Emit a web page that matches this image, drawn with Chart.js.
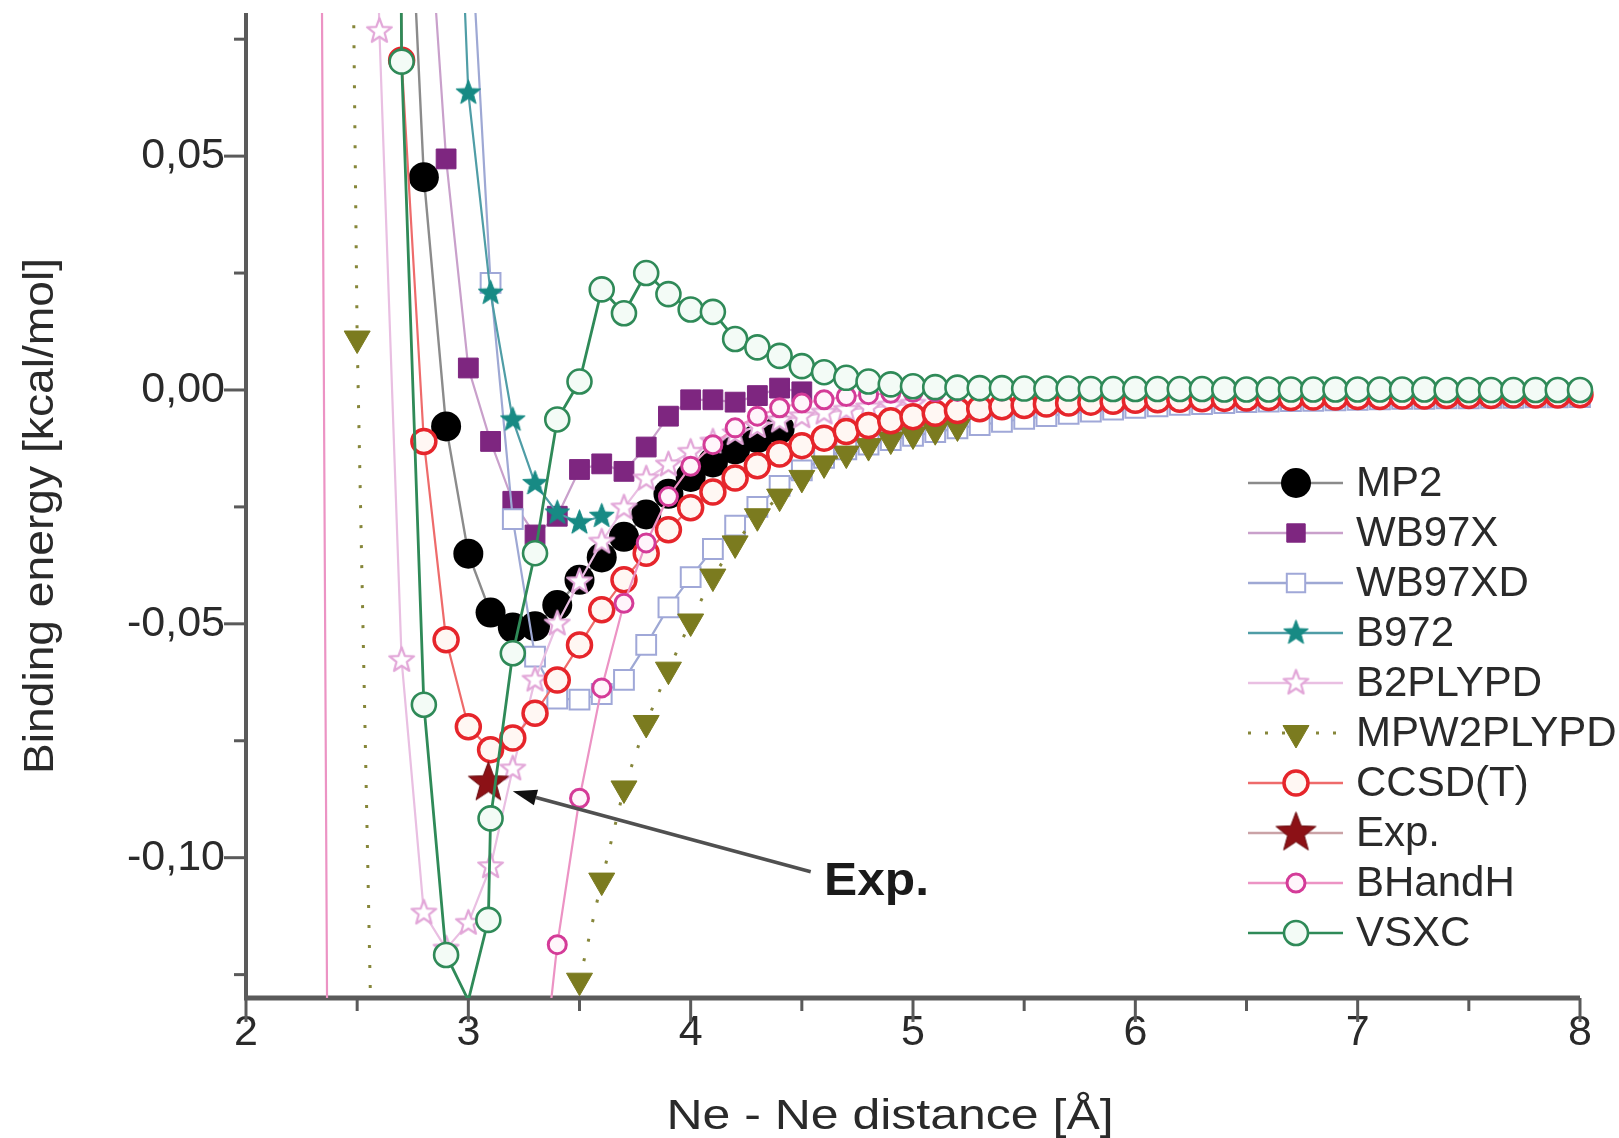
<!DOCTYPE html>
<html>
<head>
<meta charset="utf-8">
<title>Ne2 binding energy</title>
<script src="https://cdn.jsdelivr.net/npm/chart.js@4.4.1/dist/chart.umd.min.js"></script>
<style>
  html, body { margin: 0; padding: 0; background: #fff; }
  #wrap { width: 1619px; height: 1138px; }
</style>
</head>
<body>
<div id="wrap"><canvas id="myChart" width="1619" height="1138"></canvas></div>
<script>
// Ne - Ne distance grid (Å), 0.1 apart
const dist = [
    2.3, 2.4, 2.5, 2.6, 2.7, 2.8, 2.9, 3.0, 3.1, 3.2,
    3.3, 3.4, 3.5, 3.6, 3.7, 3.8, 3.9, 4.0, 4.1, 4.2,
    4.3, 4.4, 4.5, 4.6, 4.7, 4.8, 4.9, 5.0, 5.1, 5.2,
    5.3, 5.4, 5.5, 5.6, 5.7, 5.8, 5.9, 6.0, 6.1, 6.2,
    6.3, 6.4, 6.5, 6.6, 6.7, 6.8, 6.9, 7.0, 7.1, 7.2,
    7.3, 7.4, 7.5, 7.6, 7.7, 7.8, 7.9, 8.0
];

// binding energies (kcal/mol) on the grid above
const mp2E = [
    null, null, null, null, 0.146, 0.0455, -0.0078, -0.0350, -0.0476, -0.0508,
    -0.0505, -0.0460, -0.0406, -0.0358, -0.0314, -0.0266, -0.0222, -0.0186, -0.0155, -0.0127,
    -0.0103, -0.0083
];
const wb97xE = [
    null, null, null, null, null, 0.119, 0.0494, 0.0047, -0.0110, -0.0238,
    -0.0310, -0.0270, -0.0170, -0.0158, -0.0174, -0.0122, -0.0056, -0.0021, -0.0021, -0.0026,
    -0.0012, 0.0004, -0.0004
];
const wb97xdE = [
    null, null, null, null, null, null, 0.30, 0.108, 0.0229, -0.0276,
    -0.0570, -0.0660, -0.0662, -0.0650, -0.0620, -0.0545, -0.0465, -0.0400, -0.0340, -0.0290,
    -0.0250, -0.0205, -0.0172, -0.0145, -0.0127, -0.0117, -0.0107, -0.0098, -0.0090, -0.0082,
    -0.0075, -0.0068, -0.0062, -0.0056, -0.0051, -0.0046, -0.0042, -0.0038, -0.0035, -0.0032,
    -0.0030, -0.0028, -0.0026, -0.0025, -0.0024, -0.0023, -0.0022, -0.0021, -0.0020, -0.0019,
    -0.0019, -0.0018, -0.0018, -0.0017, -0.0017, -0.0016, -0.0016, -0.0015
];
const b972E = [
    null, null, null, null, null, null, 0.18, 0.0635, 0.0207, -0.0064,
    -0.0200, -0.0263, -0.0284, -0.0270
];
const b2plypdE = [
    null, null, 0.30, 0.0767, -0.0578, -0.1118, -0.1195, -0.1140, -0.1019, -0.0810,
    -0.0620, -0.0500, -0.0410, -0.0325, -0.0252, -0.0190, -0.0160, -0.0133, -0.0111, -0.0093,
    -0.0078, -0.0066, -0.0057, -0.0049, -0.0043, -0.0038, -0.0034, -0.0030
];
const mpw2plypdE = [
    null, 0.45, 0.0110, -0.225, null, null, null, null, null, null,
    null, null, -0.1263, -0.1049, -0.0852, -0.0712, -0.0598, -0.0495, -0.0399, -0.0328,
    -0.0270, -0.0228, -0.0188, -0.0157, -0.0136, -0.0120, -0.0106, -0.0095, -0.0086, -0.0078
];
const ccsdtE = [
    null, null, null, 0.60, 0.0705, -0.0110, -0.0534, -0.0720, -0.0769, -0.0744,
    -0.0691, -0.0620, -0.0545, -0.0470, -0.0406, -0.0349, -0.0299, -0.0252, -0.0218, -0.0188,
    -0.0162, -0.0137, -0.0119, -0.0103, -0.0089, -0.0076, -0.0066, -0.0057, -0.0050, -0.0044,
    -0.0040, -0.0036, -0.0033, -0.0030, -0.0028, -0.0026, -0.0024, -0.0022, -0.0021, -0.0020,
    -0.0019, -0.0018, -0.0017, -0.0016, -0.0016, -0.0015, -0.0015, -0.0014, -0.0014, -0.0013,
    -0.0013, -0.0012, -0.0012, -0.0012, -0.0011, -0.0011, -0.0011, -0.0010
];
const bhandhE = [
    0.47, -0.46, null, null, null, null, null, null, null, null,
    -0.162, -0.1186, -0.0873, -0.0637, -0.0456, -0.0327, -0.0228, -0.0163, -0.0117, -0.0081,
    -0.0056, -0.0038, -0.0028, -0.0021, -0.0014, -0.0010, -0.0007, -0.0005, -0.0004, -0.0003,
    -0.0002, -0.0002, -0.0001, -0.0001, -0.0001, -0.0001, 0, 0, 0, 0,
    0, 0, 0, 0, 0, 0, 0, 0, 0, 0,
    0, 0, 0, 0, 0, 0, 0, 0
];

// VSXC has its own distances (two points near 3.1)
const vsxcDist = [
    2.6, 2.7, 2.8, 2.9, 3.0, 3.09, 3.1, 3.2, 3.3, 3.4,
    3.5, 3.6, 3.7, 3.8, 3.9, 4.0, 4.1, 4.2, 4.3, 4.4,
    4.5, 4.6, 4.7, 4.8, 4.9, 5.0, 5.1, 5.2, 5.3, 5.4,
    5.5, 5.6, 5.7, 5.8, 5.9, 6.0, 6.1, 6.2, 6.3, 6.4,
    6.5, 6.6, 6.7, 6.8, 6.9, 7.0, 7.1, 7.2, 7.3, 7.4,
    7.5, 7.6, 7.7, 7.8, 7.9, 8.0
];
const vsxcE = [
    0.80, 0.0702, -0.0673, -0.1208, -0.1305, -0.1133, -0.0916, -0.0563, -0.0349, -0.0063,
    0.0018, 0.0215, 0.0164, 0.0250, 0.0205, 0.0172, 0.0167, 0.0109, 0.0091, 0.0073,
    0.0051, 0.0038, 0.0026, 0.0018, 0.0012, 0.0008, 0.0006, 0.0005, 0.0004, 0.0004,
    0.0003, 0.0003, 0.0003, 0.0002, 0.0002, 0.0002, 0.0002, 0.0002, 0.0002, 0.0001,
    0.0001, 0.0001, 0.0001, 0.0001, 0.0001, 0.0001, 0.0001, 0.0001, 0.0001, 0,
    0, 0, 0, 0, 0, 0
];

// experimental minimum
const expDist = [3.09];
const expE = [-0.084];

// axes
const xMin = 2, xMax = 8;
const yMin = -0.13, yMax = 0.0806;
const xTicks = [2, 3, 4, 5, 6, 7, 8];
const xMinor = [2.5, 3.5, 4.5, 5.5, 6.5, 7.5];
const yTicks = [-0.10, -0.05, 0, 0.05];
const yMinor = [-0.125, -0.075, -0.025, 0.025, 0.075];

// "Exp." arrow, in data units
const arrowTip = [3.2, -0.0858];
const arrowTail = [4.54, -0.1030];
const expLabelAt = [4.6, -0.1079];

const fontFamily = "'Liberation Sans', Arial, Helvetica, sans-serif";
const axisColor = '#5a5a5a';

function points(xs, ys) {
    return ys.map((y, i) => ({ x: xs[i], y: y }));
}

// no marker for points that sit under the bottom axis
function hideBelow(r) {
    return c => (c.raw && c.raw.y !== null && c.raw.y < yMin) ? 0 : r;
}

// five pointed star as a canvas marker
function starImage(R, fill, stroke, lw) {
    const c = document.createElement('canvas');
    const size = Math.ceil(2 * R + lw + 4);
    c.width = size;
    c.height = size;
    const g = c.getContext('2d');
    const cx = size / 2, cy = size / 2;
    g.beginPath();
    for (let i = 0; i < 10; i++) {
        const r = i % 2 === 0 ? R : R * 0.42;
        const a = -Math.PI / 2 + i * Math.PI / 5;
        g.lineTo(cx + r * Math.cos(a), cy + r * Math.sin(a));
    }
    g.closePath();
    g.fillStyle = fill;
    g.fill();
    if (lw > 0) {
        g.strokeStyle = stroke;
        g.lineWidth = lw;
        g.lineJoin = 'round';
        g.stroke();
    }
    return c;
}

const tealStar = starImage(13, '#178a84', '#178a84', 1);
const pinkStar = starImage(13, '#ffffff', '#e2a6d8', 2.2);
const expStar = starImage(21, '#8c1116', '#6a0c10', 1);

const datasets = [
    {
        label: 'MP2', data: points(dist, mp2E),
        borderColor: '#8b8b8b', borderWidth: 2.4,
        pointStyle: 'circle', legendR: 15, pointRadius: hideBelow(15),
        pointBackgroundColor: '#000000', pointBorderColor: '#000000', pointBorderWidth: 0
    },
    {
        label: 'WB97X', data: points(dist, wb97xE),
        borderColor: '#c9a0cb', borderWidth: 2.2,
        pointStyle: 'rect', legendR: 13, pointRadius: hideBelow(14),
        pointBackgroundColor: '#7e2680', pointBorderColor: '#7e2680', pointBorderWidth: 1
    },
    {
        label: 'WB97XD', data: points(dist, wb97xdE),
        borderColor: '#9ea8d4', borderWidth: 2.2,
        pointStyle: 'rect', legendR: 13, pointRadius: hideBelow(14),
        pointBackgroundColor: '#ffffff', pointBorderColor: '#a0a8d8', pointBorderWidth: 2
    },
    {
        label: 'B972', data: points(dist, b972E),
        borderColor: '#4f9da6', borderWidth: 2.2,
        pointStyle: tealStar, legendR: 13, pointRadius: hideBelow(13)
    },
    {
        label: 'B2PLYPD', data: points(dist, b2plypdE),
        borderColor: '#e9bfe2', borderWidth: 2.2,
        pointStyle: pinkStar, legendR: 13, pointRadius: hideBelow(13)
    },
    {
        label: 'MPW2PLYPD', data: points(dist, mpw2plypdE),
        borderColor: '#86863a', borderWidth: 3, borderDash: [3, 17],
        pointStyle: 'triangle', pointRotation: 180, legendR: 15, pointRadius: hideBelow(15),
        pointBackgroundColor: '#7b7b1f', pointBorderColor: '#7b7b1f', pointBorderWidth: 1
    },
    {
        label: 'CCSD(T)', data: points(dist, ccsdtE),
        borderColor: '#ee6b6b', borderWidth: 2.2,
        pointStyle: 'circle', legendR: 12, pointRadius: hideBelow(12),
        pointBackgroundColor: '#fff7f3', pointBorderColor: '#e6252b', pointBorderWidth: 3.5
    },
    {
        label: 'Exp.', data: points(expDist, expE), showLine: false,
        borderColor: '#8c1116', legendLine: '#caa2a6', borderWidth: 2.2,
        pointStyle: expStar, legendR: 20, pointRadius: hideBelow(21)
    },
    {
        label: 'BHandH', data: points(dist, bhandhE),
        borderColor: '#ec93c4', borderWidth: 2.2,
        pointStyle: 'circle', legendR: 9, pointRadius: hideBelow(9),
        pointBackgroundColor: '#fff5fb', pointBorderColor: '#d43b98', pointBorderWidth: 3
    },
    {
        label: 'VSXC', data: points(vsxcDist, vsxcE),
        borderColor: '#2f8a58', borderWidth: 2.8,
        pointStyle: 'circle', legendR: 12, pointRadius: hideBelow(12),
        pointBackgroundColor: '#f3fbf6', pointBorderColor: '#2f8a58', pointBorderWidth: 2.6
    }
];

// later series are painted over earlier ones
datasets.forEach((ds, i) => {
    ds.order = datasets.length - i;
    ds.clip = { left: 0, top: 0, right: 16, bottom: 0 };
    ds.fill = false;
    ds.tension = 0;
});

function tick(ctx, x0, y0, x1, y1) {
    ctx.beginPath();
    ctx.moveTo(x0, y0);
    ctx.lineTo(x1, y1);
    ctx.stroke();
}

// axis lines and tick marks
const axesPlugin = {
    id: 'axes',
    beforeDatasetsDraw(chart) {
        const { ctx, chartArea: a, scales: { x, y } } = chart;
        ctx.save();
        ctx.strokeStyle = axisColor;
        ctx.lineWidth = 4;
        tick(ctx, a.left, a.top, a.left, a.bottom + 2);
        ctx.lineWidth = 5;
        tick(ctx, a.left - 2, a.bottom, a.right, a.bottom);
        ctx.lineWidth = 3;
        xTicks.forEach(v => { const px = x.getPixelForValue(v); tick(ctx, px, a.bottom, px, a.bottom + 24); });
        xMinor.forEach(v => { const px = x.getPixelForValue(v); tick(ctx, px, a.bottom, px, a.bottom + 13); });
        yTicks.forEach(v => { const py = y.getPixelForValue(v); tick(ctx, a.left, py, a.left - 22, py); });
        yMinor.forEach(v => { const py = y.getPixelForValue(v); tick(ctx, a.left, py, a.left - 12, py); });
        ctx.restore();
    }
};

function drawMarker(ctx, ds, x, y) {
    const style = ds.pointStyle;
    ctx.save();
    if (style instanceof HTMLCanvasElement) {
        ctx.drawImage(style, x - style.width / 2, y - style.height / 2);
    } else {
        const r = ds.legendR;
        ctx.fillStyle = ds.pointBackgroundColor;
        ctx.strokeStyle = ds.pointBorderColor;
        ctx.lineWidth = ds.pointBorderWidth;
        ctx.beginPath();
        if (style === 'circle') {
            ctx.arc(x, y, r, 0, Math.PI * 2);
        } else if (style === 'rect') {
            const s = r * Math.SQRT1_2;
            ctx.rect(x - s, y - s, 2 * s, 2 * s);
        } else if (style === 'triangle') {
            ctx.moveTo(x, y + r);
            ctx.lineTo(x - 0.866 * r, y - 0.5 * r);
            ctx.lineTo(x + 0.866 * r, y - 0.5 * r);
            ctx.closePath();
        }
        ctx.fill();
        if (ds.pointBorderWidth > 0) ctx.stroke();
    }
    ctx.restore();
}

// legend, axis titles and the "Exp." pointer
const decorPlugin = {
    id: 'decor',
    afterDatasetsDraw(chart) {
        const { ctx, scales: { x, y } } = chart;
        const x0 = x.getPixelForValue(arrowTail[0]), y0 = y.getPixelForValue(arrowTail[1]);
        const x1 = x.getPixelForValue(arrowTip[0]), y1 = y.getPixelForValue(arrowTip[1]);
        const ang = Math.atan2(y1 - y0, x1 - x0);
        const headLen = 24, headHalf = 8;
        const bx = x1 - headLen * Math.cos(ang), by = y1 - headLen * Math.sin(ang);
        ctx.save();
        ctx.strokeStyle = '#505050';
        ctx.lineWidth = 3.5;
        tick(ctx, x0, y0, bx, by);
        ctx.fillStyle = '#111111';
        ctx.beginPath();
        ctx.moveTo(x1, y1);
        ctx.lineTo(bx + headHalf * Math.sin(ang), by - headHalf * Math.cos(ang));
        ctx.lineTo(bx - headHalf * Math.sin(ang), by + headHalf * Math.cos(ang));
        ctx.closePath();
        ctx.fill();

        ctx.translate(x.getPixelForValue(expLabelAt[0]), y.getPixelForValue(expLabelAt[1]));
        ctx.scale(1.08, 1);
        ctx.fillStyle = '#1a1a1a';
        ctx.font = 'bold 46px ' + fontFamily;
        ctx.textBaseline = 'alphabetic';
        ctx.textAlign = 'left';
        ctx.fillText('Exp.', 0, 0);
        ctx.restore();
    },
    afterDraw(chart) {
        const ctx = chart.ctx;
        const legendTop = 483, legendGap = 50;
        chart.data.datasets.forEach((ds, i) => {
            const ly = legendTop + i * legendGap;
            ctx.save();
            ctx.strokeStyle = ds.legendLine || ds.borderColor;
            ctx.lineWidth = ds.borderDash ? 3 : 2.5;
            ctx.setLineDash(ds.borderDash ? [3, 14] : []);
            tick(ctx, 1248, ly, 1343, ly);
            ctx.setLineDash([]);
            drawMarker(ctx, ds, 1296, ly);
            ctx.fillStyle = '#2a2a2a';
            ctx.font = '42px ' + fontFamily;
            ctx.textBaseline = 'middle';
            ctx.textAlign = 'left';
            ctx.fillText(ds.label, 1356, ly + 1);
            ctx.restore();
        });

        ctx.save();
        ctx.fillStyle = '#2a2a2a';
        ctx.font = '42px ' + fontFamily;
        ctx.textAlign = 'center';
        ctx.textBaseline = 'middle';
        ctx.save();
        ctx.translate(890, 1117);
        ctx.scale(1.19, 1);
        ctx.fillText('Ne - Ne distance [Å]', 0, 0);
        ctx.restore();
        ctx.translate(41, 516);
        ctx.rotate(-Math.PI / 2);
        ctx.scale(1.10, 1);
        ctx.fillText('Binding energy [kcal/mol]', 0, 0);
        ctx.restore();
    }
};

const config = {
    type: 'line',
    data: { datasets: datasets },
    options: {
        responsive: false,
        devicePixelRatio: 1,
        animation: false,
        events: [],
        layout: { autoPadding: false, padding: { top: 13, right: 39, bottom: 0, left: 0 } },
        plugins: {
            legend: { display: false },
            tooltip: { enabled: false }
        },
        scales: {
            x: {
                type: 'linear', min: xMin, max: xMax,
                grid: { display: false, drawTicks: false },
                border: { display: false },
                ticks: { padding: 9, color: '#2a2a2a', font: { family: fontFamily, size: 43 }, callback: v => String(v) },
                afterBuildTicks: s => { s.ticks = xTicks.map(v => ({ value: v })); },
                afterFit: s => { s.height = 140; s.paddingLeft = 0; s.paddingRight = 0; }
            },
            y: {
                type: 'linear', min: yMin, max: yMax,
                grid: { display: false, drawTicks: false },
                border: { display: false },
                ticks: { padding: 21, color: '#2a2a2a', font: { family: fontFamily, size: 43, lineHeight: 0.5 }, callback: v => v.toFixed(2).replace('.', ',') },
                afterBuildTicks: s => { s.ticks = yTicks.map(v => ({ value: v })); },
                afterFit: s => { s.width = 246; s.paddingTop = 0; s.paddingBottom = 0; }
            }
        }
    },
    plugins: [axesPlugin, decorPlugin]
};

var myChart = new Chart(document.getElementById('myChart'), config);
</script>
</body>
</html>
